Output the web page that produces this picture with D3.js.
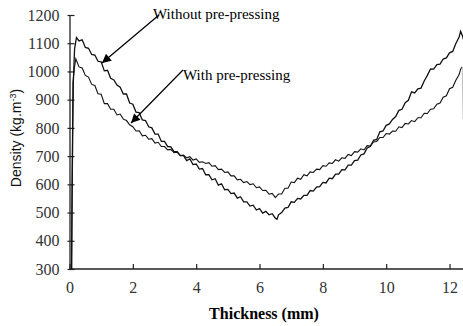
<!DOCTYPE html>
<html><head><meta charset="utf-8">
<script src="https://cdn.jsdelivr.net/npm/d3@7"></script>
<style>body{margin:0;background:#fff}</style>
</head><body>
<script>
// ---- data ----
const xTicks = [0, 2, 4, 6, 8, 10, 12];
const yTicks = [300, 400, 500, 600, 700, 800, 900, 1000, 1100, 1200];

const thickWithout = [0.07,0.09,0.12,0.16,0.22,0.3,0.4,0.5,0.6,0.7,0.8,0.9,1.0,1.1,1.2,1.3,1.4,1.5,1.6,1.7,1.8,1.9,2.0,2.1,2.2,2.3,2.4,2.5,2.6,2.7,2.8,2.9,3.0,3.1,3.2,3.3,3.4,3.5,3.6,3.7,3.8,3.9,4.0,4.1,4.2,4.3,4.4,4.5,4.6,4.7,4.8,4.9,5.0,5.1,5.2,5.3,5.4,5.5,5.6,5.7,5.8,5.9,6.0,6.1,6.2,6.3,6.4,6.5,6.55,6.6,6.7,6.8,6.9,7.0,7.1,7.2,7.3,7.4,7.5,7.6,7.7,7.8,7.9,8.0,8.1,8.2,8.3,8.4,8.5,8.6,8.7,8.8,8.9,9.0,9.1,9.2,9.3,9.4,9.5,9.6,9.7,9.8,9.9,10.0,10.1,10.2,10.3,10.4,10.5,10.6,10.7,10.8,10.9,11.0,11.1,11.2,11.3,11.4,11.5,11.6,11.7,11.8,11.9,12.0,12.1,12.2,12.3,12.35,12.4,12.45];
const densWithout = [300,650,960,1080,1120,1108,1112,1085,1082,1060,1058,1036,1034,1002,1004,976,970,952,944,920,920,888,884,856,854,828,826,804,800,778,778,752,752,734,733,716,716,702,702,684,690,670,672,654,656,634,634,616,620,597,602,581,582,567,569,551,556,538,538,523,526,509,514,498,504,492,496,480,476,492,500,516,518,538,536,550,548,561,561,578,576,590,592,607,605,622,620,636,636,652,651,668,668,684,686,704,708,729,734,756,759,786,789,809,814,830,840,862,866,889,898,928,924,938,941,966,986,1009,1008,1024,1026,1044,1048,1066,1071,1099,1121,1142,1128,1110];

const thickWith = [0.06,0.08,0.11,0.15,0.2,0.3,0.4,0.5,0.6,0.7,0.8,0.9,1.0,1.1,1.2,1.3,1.4,1.5,1.6,1.7,1.8,1.9,2.0,2.1,2.2,2.3,2.4,2.5,2.6,2.7,2.8,2.9,3.0,3.1,3.2,3.3,3.4,3.5,3.6,3.7,3.8,3.9,4.0,4.1,4.2,4.3,4.4,4.5,4.6,4.7,4.8,4.9,5.0,5.1,5.2,5.3,5.4,5.5,5.6,5.7,5.8,5.9,6.0,6.1,6.2,6.3,6.4,6.5,6.6,6.7,6.8,6.9,7.0,7.1,7.2,7.3,7.4,7.5,7.6,7.7,7.8,7.9,8.0,8.1,8.2,8.3,8.4,8.5,8.6,8.7,8.8,8.9,9.0,9.1,9.2,9.3,9.4,9.5,9.6,9.7,9.8,9.9,10.0,10.1,10.2,10.3,10.4,10.5,10.6,10.7,10.8,10.9,11.0,11.1,11.2,11.3,11.4,11.5,11.6,11.7,11.8,11.9,12.0,12.1,12.2,12.3,12.35,12.4,12.43];
const densWith = [300,600,960,1010,1045,1016,1012,986,980,954,950,921,919,886,886,866,866,846,849,831,826,811,804,789,790,772,774,760,762,746,749,734,734,722,724,712,714,702,704,694,698,686,690,678,680,674,677,664,666,652,654,642,644,630,630,616,618,606,610,599,602,588,591,578,579,565,568,553,566,566,586,586,608,606,622,618,634,630,644,642,654,652,666,664,676,674,687,682,694,692,706,702,716,714,726,722,737,736,750,752,766,766,780,778,789,788,804,801,816,814,826,822,836,836,852,851,866,868,884,888,909,914,939,944,969,988,1008,1016,830];

const seriesLabels = ["Without pre-pressing", "With pre-pressing"];

// ---- chart ----
const W = 463, H = 326;
const svg = d3.select("body").append("svg").attr("width", W).attr("height", H);

const x = d3.scaleLinear().domain([0, 12.4]).range([69.5, 462.2]);
const y = d3.scaleLinear().domain([300, 1200]).range([269, 15]);

const tickFont = "'Liberation Serif', 'DejaVu Serif', serif";

// y axis
const yAxis = d3.axisLeft(y).tickValues(yTicks).tickFormat(d3.format("d"))
  .tickSizeInner(-5).tickSizeOuter(0).tickPadding(10);
const gy = svg.append("g").attr("transform", "translate(69.5,0)").call(yAxis);
gy.select(".domain").attr("stroke", "#222").attr("stroke-width", 1.3);
gy.selectAll(".tick line").attr("stroke", "#222").attr("stroke-width", 1.2).attr("x1", -2);
gy.selectAll(".tick text").attr("font-family", tickFont).attr("font-size", 16).attr("fill", "#333");

// x axis
const xAxis = d3.axisBottom(x).tickValues(xTicks).tickFormat(d3.format("d"))
  .tickSizeInner(-5).tickSizeOuter(0).tickPadding(13);
const gx = svg.append("g").attr("transform", "translate(0,269)").call(xAxis);
gx.select(".domain").attr("stroke", "#222").attr("stroke-width", 1.3).attr("d", "M69.5,0H463");
gx.selectAll(".tick line").attr("stroke", "#222").attr("stroke-width", 1.2);
gx.selectAll(".tick text").attr("font-family", tickFont).attr("font-size", 16).attr("fill", "#333");

// lines
const line = d3.line().x(d => x(d[0])).y(d => y(d[1]));
const dataWithout = thickWithout.map((t, i) => [t, densWithout[i]]);
const dataWith = thickWith.map((t, i) => [t, densWith[i]]);

svg.append("path").datum(dataWith.slice(0, -1)).attr("d", line)
  .attr("fill", "none").attr("stroke", "#111").attr("stroke-width", 1.1);
svg.append("path").datum(dataWith.slice(-2)).attr("d", line)
  .attr("fill", "none").attr("stroke", "#bbb").attr("stroke-width", 1);
svg.append("path").datum(dataWithout).attr("d", line)
  .attr("fill", "none").attr("stroke", "#111").attr("stroke-width", 1.3);

// axis titles
svg.append("text").attr("x", 264).attr("y", 319).attr("text-anchor", "middle")
  .attr("font-family", tickFont).attr("font-weight", "bold").attr("font-size", 16)
  .text("Thickness (mm)");

const yt = svg.append("text").attr("transform", "translate(21,138) rotate(-90)")
  .attr("text-anchor", "middle").attr("font-family", "'Liberation Sans', Arial, sans-serif")
  .attr("font-size", 14).attr("fill", "#111");
yt.append("tspan").text("Density (kg.m");
yt.append("tspan").attr("dy", -5).attr("font-size", 9).text("-3");
yt.append("tspan").attr("dy", 5).text(")");

// annotations with arrows
svg.append("defs").append("marker").attr("id", "ah")
  .attr("viewBox", "0 0 10 10").attr("refX", 10).attr("refY", 5)
  .attr("markerWidth", 12).attr("markerHeight", 9).attr("markerUnits", "userSpaceOnUse")
  .attr("orient", "auto")
  .append("path").attr("d", "M0,0L10,5L0,10Z").attr("fill", "#000");

const annots = [
  {label: seriesLabels[0], tx: 153, ty: 19, x1: 159, y1: 15, x2: 102, y2: 63},
  {label: seriesLabels[1], tx: 183, ty: 80, x1: 183, y1: 70, x2: 131, y2: 123}
];
annots.forEach(a => {
  svg.append("line").attr("x1", a.x1).attr("y1", a.y1).attr("x2", a.x2).attr("y2", a.y2)
    .attr("stroke", "#000").attr("stroke-width", 1.2).attr("marker-end", "url(#ah)");
  svg.append("text").attr("x", a.tx).attr("y", a.ty)
    .attr("font-family", tickFont).attr("font-size", 15).attr("fill", "#000").text(a.label);
});
</script>
</body></html>
